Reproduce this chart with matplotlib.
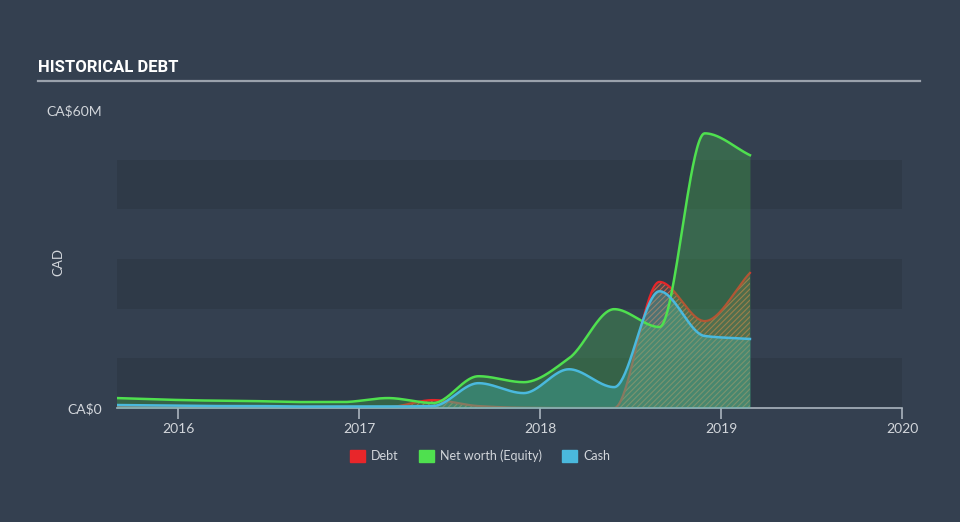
import numpy as np
import matplotlib
matplotlib.use("Agg")
import matplotlib.pyplot as plt
from matplotlib.patches import Patch

# ---- data (CA$ millions), quarterly ----
dates = [2015.66, 2015.91, 2016.16, 2016.41, 2016.66, 2016.91, 2017.16, 2017.41,
         2017.66, 2017.91, 2018.16, 2018.41, 2018.66, 2018.91, 2019.16]
equity = [2.0, 1.7, 1.5, 1.4, 1.2, 1.2, 2.0, 1.0, 6.4, 5.2, 10.0, 19.9, 16.3, 55.3, 50.9]
cash = [0.6, 0.5, 0.4, 0.4, 0.3, 0.3, 0.3, 0.4, 5.0, 3.0, 7.8, 4.2, 23.5, 14.5, 13.9]
debt = [0.2, 0.2, 0.2, 0.2, 0.2, 0.2, 0.2, 1.6, 0.4, 0.05, 0.0, 0.0, 25.4, 17.5, 27.2]
year_ticks = [2016, 2017, 2018, 2019, 2020]
y_labels = ["CA$0", "CA$60M"]

BG = "#344050"
BAND = "#2f3a48"
GREEN = "#4fe04f"
CYAN = "#4ab9dd"
RED = "#e8262a"
TXT = "#d2d6db"


def monotone(x, y, n=600):
    x = np.asarray(x, float); y = np.asarray(y, float)
    h = np.diff(x); d = np.diff(y) / h
    m = np.zeros_like(y)
    m[0] = d[0]; m[-1] = d[-1]
    for k in range(1, len(x) - 1):
        if d[k - 1] * d[k] <= 0:
            m[k] = 0
        else:
            w1 = 2 * h[k] + h[k - 1]; w2 = h[k] + 2 * h[k - 1]
            m[k] = (w1 + w2) / (w1 / d[k - 1] + w2 / d[k])
    xs = np.linspace(x[0], x[-1], n)
    idx = np.clip(np.searchsorted(x, xs) - 1, 0, len(x) - 2)
    t = (xs - x[idx]) / h[idx]
    h00 = 2 * t**3 - 3 * t**2 + 1; h10 = t**3 - 2 * t**2 + t
    h01 = -2 * t**3 + 3 * t**2; h11 = t**3 - t**2
    ys = h00 * y[idx] + h10 * h[idx] * m[idx] + h01 * y[idx + 1] + h11 * h[idx] * m[idx + 1]
    return xs, np.maximum(ys, 0)


fig = plt.figure(figsize=(9.6, 5.22), dpi=100, facecolor=BG)
ax = fig.add_axes([117 / 960, 1 - 408 / 522, 785 / 960, 298 / 522])
ax.set_facecolor(BG)
ax.set_xlim(2015.663, 2020.0)
ax.set_ylim(0, 60)

for lo in (0, 20, 40):
    ax.axhspan(lo, lo + 10, color=BAND, lw=0, zorder=0)

xe, ye = monotone(dates, equity)
xc, yc = monotone(dates, cash)
xd, yd = monotone(dates, debt)

plt.rcParams['hatch.linewidth'] = 0.8
ax.fill_between(xd, 0, yd, facecolor=(0.75, 0.45, 0.35, 0.25), edgecolor="#c8654a",
                hatch="//////", lw=0, zorder=1)
ax.plot(xd, yd, color=RED, lw=1.6, zorder=1.5)
ax.fill_between(xe, 0, ye, color="#45b84a", alpha=0.33, lw=0, zorder=2)
ax.fill_between(xc, 0, yc, color="#40b8b0", alpha=0.36, lw=0, zorder=3)
ax.plot(xe, ye, color=GREEN, lw=1.8, zorder=4)
ax.plot(xc, yc, color=CYAN, lw=1.8, zorder=5)

for s in ("top", "right", "left"):
    ax.spines[s].set_visible(False)
ax.spines["bottom"].set_color("#aab4be")
ax.spines["bottom"].set_linewidth(1.2)
ax.set_xticks(year_ticks)
ax.set_xticklabels([str(y) for y in year_ticks])
ax.tick_params(axis="x", colors="#aab4be", length=8, width=1.2, labelcolor=TXT,
               labelsize=10, pad=3)
ax.set_yticks([0, 60])
ax.set_yticklabels([s.replace("$", r"\$") for s in y_labels])
ax.tick_params(axis="y", length=0, labelcolor=TXT, labelsize=10, pad=11)
for lab in ax.get_xticklabels() + ax.get_yticklabels():
    lab.set_family(["Lato", "DejaVu Sans"])

fig.text(58 / 960, 1 - 262 / 522, "CAD", rotation=90, color=TXT, fontsize=9.5,
         ha="center", va="center", family=["Lato", "DejaVu Sans"])

fig.text(38 / 960, 1 - 68 / 522, "HISTORICAL DEBT", color="white", fontsize=12,
         fontweight="bold", ha="left", va="center",
         family=["Roboto", "DejaVu Sans"])
fig.add_artist(plt.Line2D([38 / 960, 920 / 960], [1 - 81 / 522, 1 - 81 / 522],
                          color="#9aa2ac", lw=1.6, transform=fig.transFigure))

handles = [Patch(color=RED, label="Debt"), Patch(color=GREEN, label="Net worth (Equity)"),
           Patch(color=CYAN, label="Cash")]
leg = fig.legend(handles=handles, loc="center", bbox_to_anchor=(480 / 960, 1 - 456 / 522),
                 ncol=3, frameon=False, handlelength=1.2, handleheight=1.2,
                 columnspacing=1.6, handletextpad=0.5,
                 prop={"family": ["Lato", "DejaVu Sans"], "size": 9})
for t in leg.get_texts():
    t.set_color(TXT)

fig.savefig("out.png", dpi=100, facecolor=BG)
